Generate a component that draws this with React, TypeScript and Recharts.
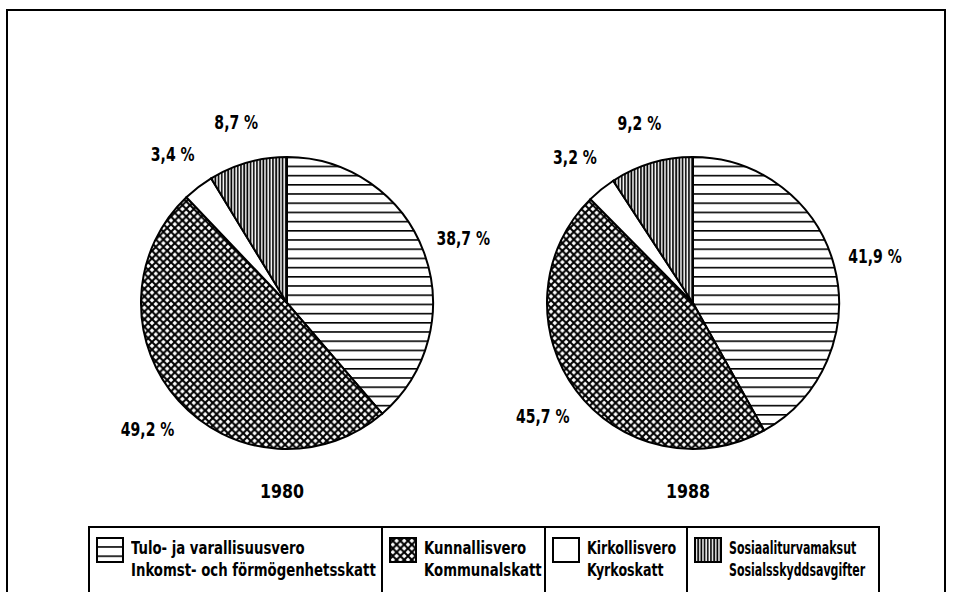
import React from 'react';
import { PieChart, Pie, Cell } from 'recharts';

// tax categories, Finnish name first, Swedish below
const categoriesFi = ['Tulo- ja varallisuusvero', 'Kunnallisvero', 'Kirkollisvero', 'Sosiaaliturvamaksut'];
const categoriesSv = ['Inkomst- och förmögenhetsskatt', 'Kommunalskatt', 'Kyrkoskatt', 'Sosialsskyddsavgifter'];
const years = ['1980', '1988'];
const values1980 = [38.7, 49.2, 3.4, 8.7];
const values1988 = [41.9, 45.7, 3.2, 9.2];

const fills = ['url(#hLines)', 'url(#crossHatch)', '#ffffff', 'url(#vLines)'];
const FONT = "'Liberation Sans Narrow', 'DejaVu Sans Condensed', sans-serif";
const RADIAN = Math.PI / 180;

const toRows = (vals: number[]) => vals.map((v, i) => ({ name: categoriesFi[i], value: v }));

const fmt = (v: number) => v.toFixed(1).replace('.', ',') + ' %';

const renderLabel = (props: any) => {
  const { cx, cy, midAngle, outerRadius, value } = props;
  const r = outerRadius + 42;
  const x = cx + r * Math.cos(-midAngle * RADIAN);
  const y = cy + r * Math.sin(-midAngle * RADIAN);
  return (
    <text transform={`translate(${x},${y}) scale(0.78,1)`} textAnchor="middle" dominantBaseline="central"
      fontFamily={FONT} fontWeight="bold" fontSize={20} fill="#000">
      {fmt(value)}
    </text>
  );
};

const Swatch = ({ fill }: { fill: string }) => (
  <svg width={28} height={26} style={{ flexShrink: 0 }}>
    <rect x={1} y={1} width={26} height={24} fill={fill} stroke="#000" strokeWidth={2} />
  </svg>
);

// legend cell widths and how much each text block is squeezed
const cellW = [291, 163, 142, 192];
const squeeze = [0.82, 0.82, 0.78, 0.68];

const App: React.FC = () => {
  const pies = [values1980, values1988];
  const centers = [282, 688];

  return (
    <div style={{ position: 'absolute', left: 0, top: 0, width: 953, height: 592, background: '#fff', overflow: 'hidden', fontFamily: FONT }}>
      <div style={{ position: 'absolute', left: 6, top: 9, width: 936, height: 620, border: '2px solid #000', borderBottom: 'none' }} />

      <PieChart width={953} height={592} style={{ position: 'absolute', left: 0, top: 0 }}>
        <defs>
          <pattern id="hLines" patternUnits="userSpaceOnUse" width={10} height={9.2}>
            <rect width={10} height={9.2} fill="#fff" />
            <line x1={0} y1={0.8} x2={10} y2={0.8} stroke="#000" strokeWidth={1.6} />
          </pattern>
          <pattern id="crossHatch" patternUnits="userSpaceOnUse" width={7.6} height={7.6}>
            <rect width={7.6} height={7.6} fill="#fff" />
            <path d="M-2,-2 L9.6,9.6 M9.6,-2 L-2,9.6" stroke="#000" strokeWidth={2.1} />
          </pattern>
          <pattern id="vLines" patternUnits="userSpaceOnUse" width={3.2} height={10}>
            <rect width={3.2} height={10} fill="#fff" />
            <line x1={1} y1={0} x2={1} y2={10} stroke="#000" strokeWidth={1.7} />
          </pattern>
        </defs>
        {pies.map((vals, p) => (
          <Pie
            key={years[p]}
            data={toRows(vals)}
            dataKey="value"
            cx={centers[p]}
            cy={298}
            outerRadius={146}
            startAngle={90}
            endAngle={-270}
            stroke="#000"
            strokeWidth={2}
            label={renderLabel}
            labelLine={false}
            isAnimationActive={false}
          >
            {vals.map((_, i) => (
              <Cell key={i} fill={fills[i]} />
            ))}
          </Pie>
        ))}
      </PieChart>

      {years.map((y, p) => (
        <div key={y} style={{ position: 'absolute', left: centers[p] - 40, width: 80, top: 479, textAlign: 'center', fontWeight: 'bold', fontSize: 20, transform: 'scaleX(0.88)' }}>
          {y}
        </div>
      ))}

      <div style={{ position: 'absolute', left: 88, top: 526, height: 90, border: '2px solid #000', borderBottom: 'none', display: 'flex' }}>
        {categoriesFi.map((c, i) => (
          <div key={c} style={{
            width: cellW[i],
            borderLeft: i > 0 ? '2px solid #000' : 'none',
            display: 'flex', alignItems: 'flex-start', gap: 7, padding: '9px 0 0 6px', boxSizing: 'border-box',
          }}>
            <Swatch fill={fills[i]} />
            <div style={{ fontSize: 18, fontWeight: 'bold', lineHeight: '22px', whiteSpace: 'nowrap', transform: `scaleX(${squeeze[i]})`, transformOrigin: 'left top' }}>
              <div>{c}</div>
              <div>{categoriesSv[i]}</div>
            </div>
          </div>
        ))}
      </div>
    </div>
  );
};

export default App;
